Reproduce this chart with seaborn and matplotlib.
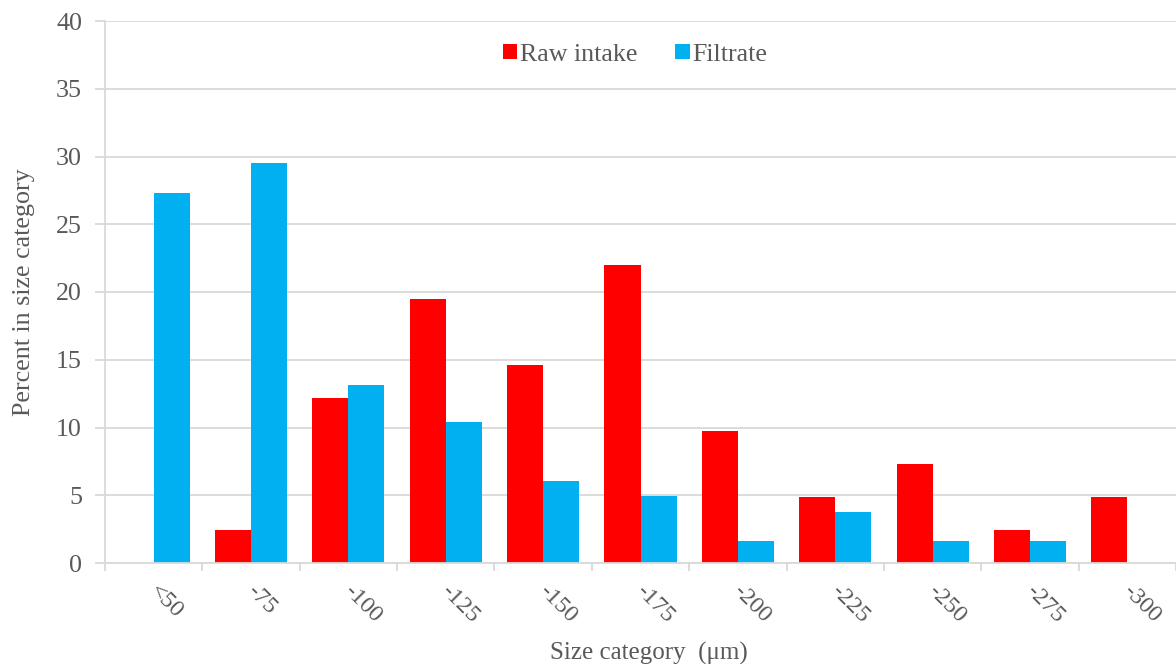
import matplotlib
matplotlib.use("Agg")
import matplotlib.pyplot as plt
import matplotlib.transforms as mtransforms
import seaborn as sns
import pandas as pd

# Size categories (µm) and the percentage of particles in each
categories = ["<50", "-75", "-100", "-125", "-150", "-175", "-200", "-225", "-250", "-275", "-300"]
raw_intake = [0.0, 2.44, 12.2, 19.5, 14.6, 22.0, 9.76, 4.88, 7.32, 2.44, 4.88]
filtrate = [27.3, 29.5, 13.1, 10.4, 6.05, 4.95, 1.64, 3.8, 1.64, 1.64, 0.0]
series_names = ["Raw intake", "Filtrate"]
series_colors = ["#FF0000", "#00B0F0"]

df = pd.DataFrame({
    "category": categories * 2,
    "series": [series_names[0]] * len(categories) + [series_names[1]] * len(categories),
    "value": raw_intake + filtrate,
})

sns.set_theme(style="white")
plt.rcParams["font.family"] = ["Liberation Serif", "DejaVu Serif"]
text_color = "#595959"
line_color = "#D9D9D9"
fs = 18.7

fig = plt.figure(figsize=(11.76, 6.64), dpi=100)
ax = fig.add_axes([105 / 1176, 1 - 563 / 664, (1176 - 105) / 1176, (563 - 21) / 664])

sns.barplot(data=df, x="category", y="value", hue="series", order=categories,
            hue_order=series_names, palette=series_colors, width=0.74,
            saturation=1, linewidth=0, ax=ax)

ax.set_ylim(0, 40)
ax.set_xlim(-0.5, len(categories) - 0.5)
ax.set_yticks(range(0, 41, 5))
ax.yaxis.grid(True, color=line_color, linewidth=1.3)
ax.set_axisbelow(True)

for side in ["top", "right"]:
    ax.spines[side].set_visible(False)
for side in ["left", "bottom"]:
    ax.spines[side].set_color(line_color)
    ax.spines[side].set_linewidth(1.3)

# Category boundary ticks on the x axis
ax.set_xticks(range(len(categories)))
ax.set_xticks([i - 0.5 for i in range(len(categories) + 1)], minor=True)
ax.tick_params(axis="x", which="minor", bottom=True, length=6, width=1.3,
               color=line_color, direction="out")
ax.tick_params(axis="x", which="major", bottom=True, length=0, pad=13)
ax.tick_params(axis="y", left=True, length=7, width=1.3, color=line_color, direction="out",
               labelsize=fs, labelcolor=text_color, pad=9.5)
ax.set_xticklabels(categories, rotation=-45, ha="left", va="top",
                   rotation_mode="anchor", fontsize=17.5, color=text_color)
shift = mtransforms.ScaledTranslation(6 / 100, 0, fig.dpi_scale_trans)
for lbl in ax.get_xticklabels():
    lbl.set_transform(lbl.get_transform() + shift)

ax.set_xlabel("Size category  (\u03bcm)", fontsize=18, color=text_color)
ax.xaxis.set_label_coords(0.508, -0.145)
ax.set_ylabel("Percent in size category", fontsize=fs, color=text_color, labelpad=15.5)

leg = ax.legend(loc="upper center", bbox_to_anchor=(0.495, 1.001), ncol=2, frameon=False,
                fontsize=fs, handlelength=0.55, handleheight=0.55, handletextpad=0.12,
                columnspacing=1.46, title=None)
for t in leg.get_texts():
    t.set_color(text_color)

fig.savefig("out.png", dpi=100)
